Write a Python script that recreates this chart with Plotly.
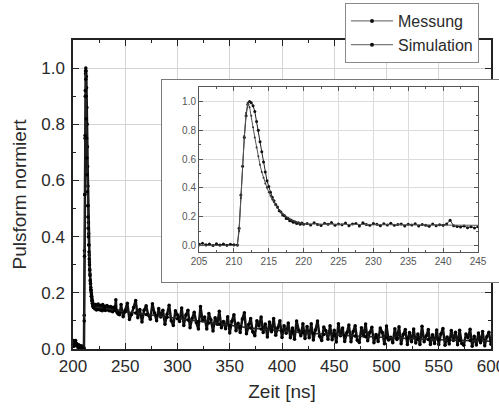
import plotly.graph_objects as go

# ---------------- data ----------------
# measurement time grid segments [ns]
t_pre = [200 + 0.5 * i for i in range(22)]            # 200.0 .. 210.5
t_peak = [210.75 + 0.25 * i for i in range(38)]        # 210.75 .. 220.0
t_tail1 = [220.5 + 0.5 * i for i in range(50)]         # 220.5 .. 245.0
t_tail2 = [246 + 2 * i for i in range(178)]            # 246 .. 600

mess_pre = [0.02, 0.03, 0.01, 0.025, 0.02, 0.03, 0.015, 0.02, 0.01, 0.012, 0.008,
            0.015, 0.005, 0.01, 0.0, 0.012, 0.004, 0.01, 0.002, 0.008, 0.006, 0.004]
mess_peak = [0.12, 0.35, 0.55, 0.75, 0.90, 0.98, 1.0, 0.99, 0.97, 0.93,
             0.86, 0.80, 0.72, 0.65, 0.58, 0.51, 0.45, 0.41, 0.37, 0.335,
             0.31, 0.285, 0.268, 0.242, 0.232, 0.212, 0.207, 0.188, 0.187, 0.172,
             0.171, 0.162, 0.163, 0.152, 0.158, 0.148, 0.156, 0.147]
mess_tail1 = [0.152, 0.142, 0.158, 0.146, 0.139, 0.155, 0.148, 0.160, 0.141, 0.150,
              0.144, 0.156, 0.138, 0.149, 0.153, 0.136, 0.158, 0.145, 0.140, 0.152,
              0.147, 0.137, 0.151, 0.143, 0.155, 0.140, 0.146, 0.150, 0.136, 0.148,
              0.142, 0.151, 0.135, 0.146, 0.140, 0.133, 0.149, 0.138, 0.144, 0.141,
              0.150, 0.175, 0.138, 0.132, 0.128, 0.135, 0.124, 0.130, 0.122, 0.131]
mess_tail2 = [0.158, 0.115, 0.138, 0.163, 0.105, 0.123, 0.148, 0.173, 0.111, 0.141,
              0.096, 0.138, 0.154, 0.121, 0.106, 0.161, 0.128, 0.101, 0.144, 0.114,
              0.138, 0.088, 0.124, 0.156, 0.101, 0.084, 0.136, 0.121, 0.098, 0.146,
              0.084, 0.121, 0.138, 0.076, 0.109, 0.131, 0.094, 0.071, 0.151, 0.101,
              0.114, 0.071, 0.126, 0.104, 0.064, 0.111, 0.088, 0.134, 0.076, 0.098,
              0.072, 0.115, 0.057, 0.099, 0.122, 0.065, 0.092, 0.059, 0.107, 0.129,
              0.054, 0.087, 0.109, 0.061, 0.047, 0.101, 0.082, 0.114, 0.059, 0.089,
              0.043, 0.096, 0.061, 0.109, 0.049, 0.076, 0.101, 0.041, 0.083, 0.056,
              0.093, 0.040, 0.075, 0.035, 0.100, 0.067, 0.047, 0.090, 0.037, 0.080,
              0.040, 0.090, 0.032, 0.068, 0.100, 0.045, 0.030, 0.078, 0.065, 0.035,
              0.083, 0.033, 0.067, 0.025, 0.090, 0.047, 0.075, 0.027, 0.058, 0.085,
              0.026, 0.061, 0.083, 0.031, 0.023, 0.076, 0.046, 0.089, 0.029, 0.059,
              0.077, 0.022, 0.052, 0.027, 0.075, 0.059, 0.019, 0.082, 0.032, 0.042,
              0.022, 0.072, 0.034, 0.079, 0.019, 0.052, 0.069, 0.016, 0.059, 0.026,
              0.071, 0.021, 0.053, 0.016, 0.081, 0.026, 0.046, 0.069, 0.016, 0.051,
              0.020, 0.068, 0.016, 0.053, 0.073, 0.013, 0.043, 0.018, 0.066, 0.030,
              0.060, 0.015, 0.067, 0.020, 0.013, 0.053, 0.040, 0.070, 0.010, 0.045,
              0.014, 0.057, 0.022, 0.062, 0.012, 0.044, 0.060, 0.017]

mess_t = t_pre + t_peak + t_tail1 + t_tail2
mess_y = mess_pre + mess_peak + mess_tail1 + mess_tail2

# simulation
sim_t_early = [205, 206, 207, 208, 209, 210, 210.5]
sim_y_early = [0.0, 0.0, 0.0, 0.0, 0.0, 0.0, 0.0]
sim_t_peak = [210.75 + 0.25 * i for i in range(38)]
sim_y_peak = [0.10, 0.33, 0.55, 0.76, 0.92, 0.99, 0.96, 0.90, 0.82, 0.75,
              0.68, 0.62, 0.56, 0.51, 0.47, 0.43, 0.40, 0.37, 0.345, 0.32,
              0.30, 0.28, 0.262, 0.246, 0.232, 0.22, 0.21, 0.20, 0.192, 0.185,
              0.178, 0.172, 0.167, 0.162, 0.158, 0.155, 0.152, 0.15]
sim_t_tail = [230 + 10 * i for i in range(38)]
sim_y_tail = [0.145, 0.138, 0.133, 0.128, 0.123, 0.118, 0.113, 0.108, 0.103, 0.098,
              0.093, 0.088, 0.083, 0.079, 0.075, 0.071, 0.067, 0.064, 0.061, 0.058,
              0.055, 0.052, 0.050, 0.048, 0.046, 0.044, 0.042, 0.040, 0.038, 0.037,
              0.035, 0.034, 0.033, 0.032, 0.031, 0.030, 0.029, 0.028]
sim_t = sim_t_early + sim_t_peak + sim_t_tail
sim_y = sim_y_early + sim_y_peak + sim_y_tail

series_names = ["Messung", "Simulation"]
main_xticks = [200, 250, 300, 350, 400, 450, 500, 550, 600]
main_yticks = [0.0, 0.2, 0.4, 0.6, 0.8, 1.0]
inset_xticks = [205, 210, 215, 220, 225, 230, 235, 240, 245]
inset_yticks = [0.0, 0.2, 0.4, 0.6, 0.8, 1.0]

# ---------------- figure ----------------
FONT = "Liberation Sans, Arial, sans-serif"
TXT = "#2a2a2a"
fig = go.Figure()

# main traces
fig.add_trace(go.Scatter(x=mess_t, y=mess_y, mode="lines+markers", name=series_names[0],
                         showlegend=False, line=dict(color="#111111", width=2.5),
                         marker=dict(color="#000000", size=3.5), xaxis="x", yaxis="y"))
fig.add_trace(go.Scatter(x=sim_t, y=sim_y, mode="lines+markers", name=series_names[1],
                         showlegend=False, line=dict(color="#222222", width=1.5),
                         marker=dict(color="#000000", size=3.5), xaxis="x", yaxis="y"))

# legend entries (thin grey line with a dot, as in the original legend)
for nm in series_names:
    fig.add_trace(go.Scatter(x=[None], y=[None], mode="lines+markers", name=nm,
                             line=dict(color="#7a7a7a", width=1.2),
                             marker=dict(color="#111111", size=4), xaxis="x", yaxis="y",
                             hoverinfo="skip"))

# white box behind inset (empty subplot: its background + frame)
fig.add_trace(go.Scatter(x=[], y=[], xaxis="x2", yaxis="y2", showlegend=False,
                         hoverinfo="skip"))

# inset traces
fig.add_trace(go.Scatter(x=mess_t, y=mess_y, mode="lines+markers", showlegend=False,
                         line=dict(color="#222222", width=1),
                         marker=dict(color="#111111", size=3), xaxis="x3", yaxis="y3"))
fig.add_trace(go.Scatter(x=sim_t, y=sim_y, mode="lines+markers", showlegend=False,
                         line=dict(color="#555555", width=1),
                         marker=dict(color="#333333", size=2), xaxis="x3", yaxis="y3"))

main_w = 418 / 426
axis_common = dict(showline=True, linecolor="#222222", linewidth=1.5, mirror="ticks",
                   ticks="inside", tickcolor="#222222", tickwidth=1.2, ticklen=6,
                   showgrid=True, gridcolor="#d4d4d4", gridwidth=1, zeroline=False,
                   ticklabeloverflow="allow",
                   tickfont=dict(family=FONT, size=17, color=TXT))

fig.update_layout(
    width=499, height=412,
    margin=dict(l=73, r=0, t=40, b=63, autoexpand=False),
    paper_bgcolor="white", plot_bgcolor="white",
    font=dict(family=FONT, color=TXT),
    showlegend=True,
    legend=dict(x=(345 - 73) / 426, y=(349 - 3) / 309, xanchor="left", yanchor="top",
                bgcolor="white", bordercolor="#8a8a8a", borderwidth=1,
                font=dict(family=FONT, size=16, color=TXT),
                itemwidth=42, tracegroupgap=0),
    xaxis=dict(domain=[0, main_w], range=[200, 600], tickvals=main_xticks,
               ticktext=[str(v) for v in main_xticks], ticklabelstandoff=1,
               minor=dict(dtick=25, ticks="inside", ticklen=3, tickcolor="#222222", showgrid=False),
               title=dict(text="Zeit [ns]", font=dict(family=FONT, size=19, color=TXT), standoff=10),
               **axis_common),
    yaxis=dict(domain=[0, 1], range=[0, 1.1], tickvals=main_yticks,
               ticktext=["%.1f" % v for v in main_yticks], ticklabelstandoff=3,
               minor=dict(dtick=0.1, ticks="inside", ticklen=3, tickcolor="#222222", showgrid=False),
               title=dict(text="Pulsform normiert", font=dict(family=FONT, size=19, color=TXT), standoff=10),
               **axis_common),
    xaxis2=dict(domain=[(162 - 73) / 426, 1.0], range=[0, 1], showline=True, mirror=True,
                linecolor="#7a7a7a", linewidth=1, showgrid=False, zeroline=False,
                showticklabels=False, ticks="", anchor="y2"),
    yaxis2=dict(domain=[(349 - 282) / 309, (349 - 80) / 309], range=[0, 1], showline=True,
                mirror=True, linecolor="#7a7a7a", linewidth=1, showgrid=False, zeroline=False,
                showticklabels=False, ticks="", anchor="x2"),
    xaxis3=dict(domain=[(199 - 73) / 426, (478 - 73) / 426], range=[205, 245],
                tickvals=inset_xticks, ticktext=[str(v) for v in inset_xticks],
                showline=True, linecolor="#555555", linewidth=1, mirror="ticks",
                ticks="inside", ticklen=4, tickcolor="#555555",
                minor=dict(dtick=2.5, ticks="inside", ticklen=2, tickcolor="#555555", showgrid=False),
                showgrid=True, gridcolor="#dcdcdc", zeroline=False, anchor="y3",
                tickfont=dict(family=FONT, size=10, color="#555555")),
    yaxis3=dict(domain=[(349 - 252) / 309, (349 - 87) / 309], range=[-0.045, 1.1],
                tickvals=inset_yticks, ticktext=["%.1f" % v for v in inset_yticks],
                showline=True, linecolor="#555555", linewidth=1, mirror="ticks",
                ticks="inside", ticklen=4, tickcolor="#555555",
                minor=dict(dtick=0.1, ticks="inside", ticklen=2, tickcolor="#555555", showgrid=False),
                showgrid=True, gridcolor="#dcdcdc", zeroline=False, anchor="x3",
                tickfont=dict(family=FONT, size=10, color="#555555")),
)

fig.write_html("out.html", config={"displayModeBar": False},
               post_script="document.body.style.margin='0';")
